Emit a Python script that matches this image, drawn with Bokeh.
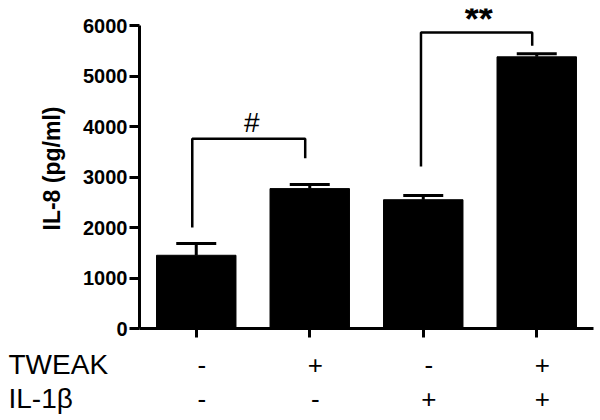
from bokeh.plotting import figure
from bokeh.models import (Range1d, LinearAxis, FixedTicker, Whisker,
                          ColumnDataSource, TeeHead)
from bokeh.core.properties import value
from bokeh.embed import file_html
from bokeh.resources import INLINE

# ---- data ----
tweak_signs = ["-", "+", "-", "+"]
il1b_signs = ["-", "-", "+", "+"]
row_names = ["TWEAK", "IL-1β"]
il8_mean = [1450, 2770, 2550, 5380]
il8_sem = [235, 80, 85, 60]
y_ticks = [0, 1000, 2000, 3000, 4000, 5000, 6000]
bracket_xs = [[0.965, 0.965, 1.96, 1.96], [2.98, 2.98, 3.96, 3.96]]
bracket_ys = [[2000, 3760, 3760, 3370], [3210, 5860, 5860, 5600]]
sig_text = ["#", "**"]
sig_x = [1.49, 3.49]
sig_y = [3760, 5860]

FONT = "Liberation Sans"
x = list(range(1, len(il8_mean) + 1))

# ---- layout constants (pixels) ----
FRAME_L, FRAME_W, FRAME_T, FRAME_H = 139, 454, 8, 320
TOP_H = 340
BOT_H = 78
X0, X1 = 0.5, 4.5
px_per_unit = FRAME_W / (X1 - X0)

src = ColumnDataSource(dict(
    x=x, mean=il8_mean,
    upper=[m + s for m, s in zip(il8_mean, il8_sem)],
))

p = figure(frame_width=FRAME_W, frame_height=FRAME_H,
           x_range=Range1d(X0, X1), y_range=Range1d(0, 6337),
           output_backend="svg", toolbar_location=None,
           x_axis_location=None, y_axis_location=None,
           min_border_left=FRAME_L, min_border_top=FRAME_T,
           min_border_right=600 - FRAME_L - FRAME_W,
           min_border_bottom=TOP_H - FRAME_T - FRAME_H)
p.grid.visible = False
p.outline_line_color = None

# y axis
yaxis = LinearAxis(ticker=FixedTicker(ticks=y_ticks), bounds=(0, 6000),
                   axis_label="IL-8 (pg/ml)")
yaxis.axis_line_width = 3
yaxis.major_tick_line_width = 3
yaxis.major_tick_out = 10
yaxis.major_tick_in = 0
yaxis.minor_tick_line_color = None
yaxis.major_label_text_font = FONT
yaxis.major_label_text_font_size = "20px"
yaxis.major_label_text_font_style = "bold"
yaxis.major_label_text_color = "black"
yaxis.major_label_standoff = 2
yaxis.axis_label_text_font = FONT
yaxis.axis_label_text_font_size = "23px"
yaxis.axis_label_text_font_style = "bold"
yaxis.axis_label_text_color = "black"
yaxis.axis_label_standoff = 15
p.add_layout(yaxis, "left")

# x axis (ticks only; labels are in the condition table below)
xaxis = LinearAxis(ticker=FixedTicker(ticks=x),
                   major_label_overrides={xi: "" for xi in x})
xaxis.axis_line_width = 3
xaxis.major_tick_line_width = 3
xaxis.major_tick_out = 9
xaxis.major_tick_in = 0
xaxis.minor_tick_line_color = None
xaxis.major_label_standoff = 0
p.add_layout(xaxis, "below")

# bars
p.vbar(x="x", top="mean", width=0.7, source=src,
       fill_color="black", line_color="black")

# error bars
p.add_layout(Whisker(source=src, base="x", lower="mean", upper="upper",
                     line_width=3, line_color="black",
                     upper_head=TeeHead(size=40, line_width=3, line_color="black"),
                     lower_head=None))

# significance brackets
p.multi_line(bracket_xs, bracket_ys, line_width=2.5, line_color="black")
p.text(x=[sig_x[0]], y=[sig_y[0]], text=[sig_text[0]], text_align="center",
       text_baseline="alphabetic", y_offset=-16, text_font=value(FONT),
       text_font_size="28px", text_color="black")
p.text(x=[sig_x[1]], y=[sig_y[1]], text=[sig_text[1]], text_align="center",
       text_baseline="alphabetic", y_offset=-13, text_font=value(FONT),
       text_font_size="36px", text_font_style="bold", text_color="black")

# ---- condition table below (same x scale, full-width frame) ----
bx0 = X0 - FRAME_L / px_per_unit
bx1 = bx0 + 600 / px_per_unit
q = figure(width=600, height=BOT_H,
           x_range=Range1d(bx0, bx1), y_range=Range1d(TOP_H + BOT_H, TOP_H),
           output_backend="svg", toolbar_location=None,
           x_axis_location=None, y_axis_location=None,
           min_border_left=0, min_border_right=0, min_border_top=0,
           min_border_bottom=0)
q.grid.visible = False
q.outline_line_color = None

row_y = [364, 398]
sign_shift = 0.05
name_x = bx0 + 8 / px_per_unit
q.text(x=[name_x] * len(row_names), y=row_y, text=row_names,
       text_align="left", text_baseline="middle", text_font=value(FONT),
       text_font_size="28px", text_color="black")
for signs, ry in zip((tweak_signs, il1b_signs), row_y):
    q.text(x=[xi + sign_shift for xi in x], y=[ry] * len(signs), text=signs,
           text_align="center", text_baseline="middle", text_font=value(FONT),
           text_font_size="26px", text_color="black")

open("out.html", "w").write(file_html([p, q], INLINE))
